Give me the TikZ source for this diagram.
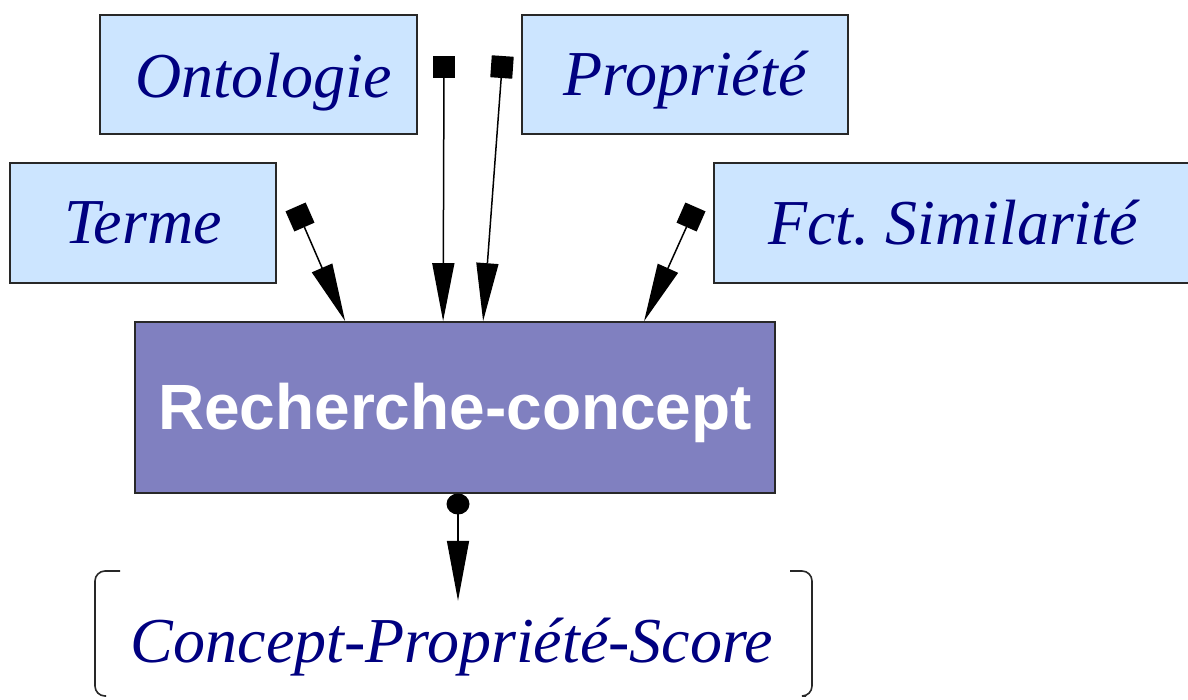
\documentclass[tikz,border=0pt]{standalone}
\usepackage{fontspec}
\setmainfont{Liberation Serif}
\newfontfamily\arialbf{Liberation Sans}
\usetikzlibrary{arrows.meta,calc,shapes.geometric}
\definecolor{boxblue}{RGB}{204,229,255}
\definecolor{textnavy}{RGB}{0,0,128}
\definecolor{rcpurple}{RGB}{128,128,192}
\definecolor{edgegray}{RGB}{40,40,40}
\newcommand{\lowertext}[2]{\raisebox{-#1}[\height][\depth]{#2}}
\tikzset{
  inbox/.style={draw=edgegray, line width=1.8pt, fill=boxblue, inner sep=0pt,
    text=textnavy, font=\fontsize{64}{70}\selectfont\itshape},
  mainbox/.style={draw=edgegray, line width=1.8pt, fill=rcpurple, inner sep=0pt,
    text=white, font=\arialbf\fontsize{64}{70}\selectfont\bfseries},
  outtext/.style={inner sep=0pt, text=textnavy, font=\fontsize{64}{70}\selectfont\itshape},
  sq/.style={fill=black, inner sep=0pt, minimum size=22pt, outer sep=0pt},
  dot/.style={fill=black, ellipse, inner sep=0pt, minimum width=23pt, minimum height=21pt},
  flow/.style={line width=1.5pt, -{Triangle[length=58pt,width=22pt]}},
  outflow/.style={line width=1.5pt, -{Triangle[length=60pt,width=22pt]}},
  brack/.style={line width=1.6pt, draw=edgegray, rounded corners=10pt}
}
\begin{document}
\begin{tikzpicture}[x=1pt,y=-1pt]
\useasboundingbox (0,0) rectangle (1188,699);
% input boxes
\node[inbox, minimum width=317, minimum height=119] (onto) at (258.5,74.5) {\hspace*{10pt}\lowertext{8pt}{Ontologie}};
\node[inbox, minimum width=326, minimum height=119] (prop) at (685,74.5) {\lowertext{6pt}{Propriété}};
\node[inbox, minimum width=266, minimum height=120] (terme) at (143,223) {Terme};
\node[inbox, minimum width=478, minimum height=120] (fct) at (953,223) {Fct.\ Similarité};
% main box
\node[mainbox, minimum width=640, minimum height=171] (rc) at (455,407.5) {\lowertext{5pt}{Recherche-concept}};
% output
\node[outtext] (out) at (452,647) {Concept-Propriété-Score};
\draw[brack] (120,571) -- (95,571) -- (95,696) -- (106,696);
\draw[brack] (790,571) -- (812,571) -- (812,696) -- (806,696);
% connector start markers
\node[sq] (s1) at (444,67) {};
\node[sq, rotate=-4] (s2) at (502,67) {};
\node[sq, rotate=23.7] (s3) at (300,217) {};
\node[sq, rotate=-23.7] (s4) at (691,217) {};
\node[dot] (d) at (458,504) {};
% connectors
\draw[flow] (s1.center) -- ($(rc.north west)+(309,0)$);
\draw[flow] (s2.center) -- ($(rc.north west)+(349,0)$);
\draw[flow] (s3.center) -- ($(rc.north west)+(211,0)$);
\draw[flow] (s4.center) -- ($(rc.north west)+(510,0)$);
\draw[outflow] (d.center) -- ($(out.north)+(6,-17)$);
\end{tikzpicture}
\end{document}
